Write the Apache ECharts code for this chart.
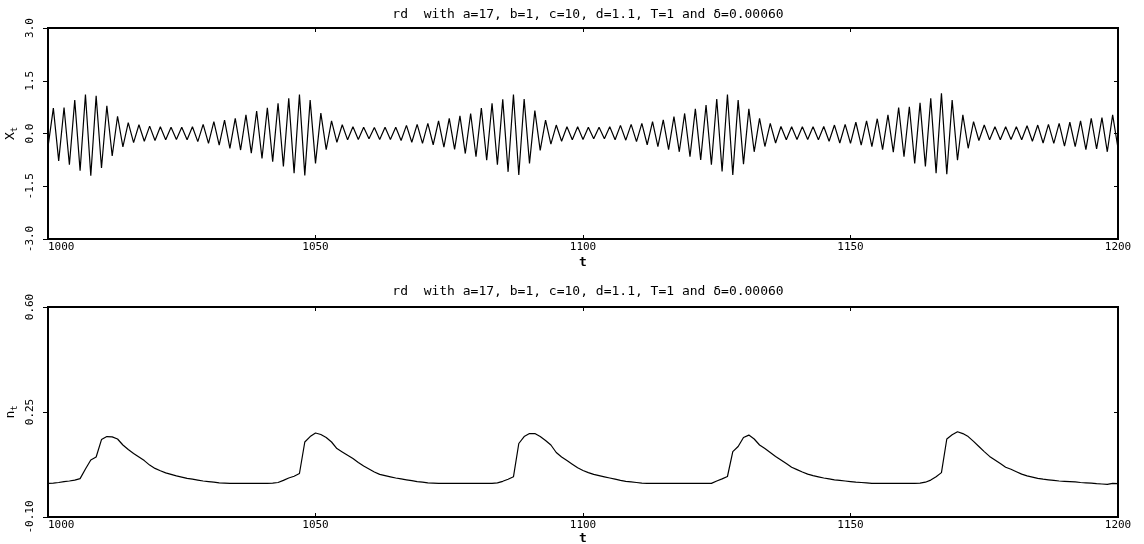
<!DOCTYPE html>
<html>
<head>
<meta charset="utf-8">
<title>rd</title>
<script src="https://cdn.jsdelivr.net/npm/echarts@6/dist/echarts.min.js"></script>
<style>
  html, body { margin: 0; padding: 0; background: #fff; }
  #main { width: 1144px; height: 544px; }
</style>
</head>
<body>
<div id="main"></div>
<script type="text/javascript">
	// time axis
	var tStart = 1000;
	var tEnd = 1200;
	var xTicks = [1000, 1050, 1100, 1150, 1200];

	// x_t, one value per t = 1000 ... 1200
	var xt = [
		-0.38, 0.72, -0.78, 0.74, -0.89, 0.95, -1.06, 1.11, -1.20, 1.07,
		-0.98, 0.79, -0.64, 0.49, -0.38, 0.31, -0.26, 0.25, -0.22, 0.21,
		-0.20, 0.19, -0.18, 0.18, -0.17, 0.18, -0.18, 0.19, -0.23, 0.26,
		-0.28, 0.34, -0.33, 0.38, -0.42, 0.43, -0.47, 0.53, -0.56, 0.64,
		-0.71, 0.73, -0.80, 0.86, -0.94, 1.00, -1.13, 1.11, -1.19, 0.95,
		-0.85, 0.58, -0.46, 0.36, -0.25, 0.25, -0.18, 0.19, -0.17, 0.18,
		-0.15, 0.17, -0.17, 0.18, -0.17, 0.18, -0.20, 0.23, -0.25, 0.26,
		-0.28, 0.29, -0.32, 0.36, -0.39, 0.43, -0.45, 0.50, -0.57, 0.57,
		-0.66, 0.72, -0.76, 0.86, -0.89, 0.97, -1.09, 1.11, -1.18, 0.98,
		-0.85, 0.65, -0.48, 0.38, -0.30, 0.24, -0.22, 0.19, -0.18, 0.19,
		-0.17, 0.18, -0.15, 0.18, -0.15, 0.19, -0.18, 0.23, -0.19, 0.26,
		-0.23, 0.29, -0.32, 0.34, -0.37, 0.39, -0.46, 0.48, -0.52, 0.57,
		-0.66, 0.70, -0.75, 0.81, -0.89, 0.98, -1.08, 1.11, -1.18, 0.95,
		-0.87, 0.70, -0.52, 0.43, -0.37, 0.29, -0.27, 0.20, -0.18, 0.19,
		-0.17, 0.19, -0.17, 0.19, -0.18, 0.20, -0.22, 0.24, -0.27, 0.26,
		-0.28, 0.32, -0.33, 0.36, -0.37, 0.42, -0.46, 0.53, -0.53, 0.74,
		-0.66, 0.76, -0.85, 0.87, -0.94, 1.00, -1.13, 1.14, -1.16, 0.95,
		-0.76, 0.53, -0.42, 0.34, -0.20, 0.24, -0.18, 0.19, -0.18, 0.19,
		-0.17, 0.19, -0.18, 0.22, -0.22, 0.24, -0.27, 0.26, -0.28, 0.29,
		-0.36, 0.32, -0.37, 0.36, -0.46, 0.43, -0.44, 0.45, -0.52, 0.53,
		-0.42
	];

	// n_t, one value per t = 1000 ... 1200
	var nt = [
		0.012, 0.013, 0.015, 0.018, 0.020, 0.023, 0.028, 0.060, 0.090, 0.100,
		0.158, 0.168, 0.167, 0.160, 0.140, 0.125, 0.112, 0.100, 0.088, 0.073,
		0.062, 0.054, 0.047, 0.042, 0.037, 0.033, 0.029, 0.026, 0.023, 0.020,
		0.018, 0.016, 0.014, 0.013, 0.012, 0.012, 0.012, 0.012, 0.012, 0.012,
		0.012, 0.012, 0.013, 0.015, 0.022, 0.030, 0.036, 0.045, 0.150, 0.168,
		0.180, 0.175, 0.165, 0.150, 0.128, 0.117, 0.106, 0.095, 0.082, 0.070,
		0.060, 0.050, 0.042, 0.038, 0.034, 0.030, 0.027, 0.024, 0.021, 0.018,
		0.016, 0.014, 0.013, 0.012, 0.012, 0.012, 0.012, 0.012, 0.012, 0.012,
		0.012, 0.012, 0.012, 0.012, 0.014, 0.019, 0.026, 0.034, 0.145, 0.168,
		0.178, 0.178, 0.168, 0.155, 0.140, 0.115, 0.100, 0.088, 0.076, 0.064,
		0.055, 0.048, 0.042, 0.038, 0.034, 0.030, 0.026, 0.022, 0.019, 0.017,
		0.015, 0.013, 0.012, 0.012, 0.012, 0.012, 0.012, 0.012, 0.012, 0.012,
		0.012, 0.012, 0.012, 0.012, 0.012, 0.020, 0.027, 0.035, 0.118, 0.135,
		0.165, 0.173, 0.160, 0.140, 0.128, 0.115, 0.102, 0.090, 0.078, 0.066,
		0.058, 0.050, 0.043, 0.038, 0.034, 0.030, 0.027, 0.024, 0.022, 0.020,
		0.018, 0.016, 0.015, 0.014, 0.012, 0.012, 0.012, 0.012, 0.012, 0.012,
		0.012, 0.012, 0.012, 0.013, 0.016, 0.023, 0.034, 0.048, 0.160, 0.174,
		0.184, 0.178, 0.168, 0.152, 0.135, 0.118, 0.102, 0.090, 0.078, 0.066,
		0.059, 0.051, 0.043, 0.037, 0.033, 0.029, 0.026, 0.024, 0.022, 0.020,
		0.019, 0.018, 0.017, 0.015, 0.014, 0.013, 0.011, 0.010, 0.009, 0.012,
		0.011
	];

	// y tick labels
	var xtTicks = [-3.0, -1.5, 0.0, 1.5, 3.0];
	var ntTicks = [-0.10, 0.25, 0.60];

	var titleText = 'rd  with a=17, b=1, c=10, d=1.1, T=1 and \u03b4=0.00060';
	var monoFont = 'DejaVu Sans Mono';

	function pairs(values) {
		var out = [];
		for (var i = 0; i < values.length; i++) {
			out.push([tStart + i, values[i]]);
		}
		return out;
	}

	function bottomAxis(gridIndex, gap) {
		return {
			type: 'value', gridIndex: gridIndex, position: 'bottom',
			min: tStart, max: tEnd, interval: xTicks[1] - xTicks[0],
			name: 't', nameLocation: 'middle', nameGap: gap,
			nameTextStyle: { fontFamily: monoFont, fontSize: 13, color: '#000', fontWeight: 'bold' },
			axisLine: { show: false, onZero: false },
			axisTick: { inside: true, length: 4, lineStyle: { color: '#000', width: 1 } },
			axisLabel: {
				fontFamily: monoFont, fontSize: 11, color: '#000', margin: 3, alignMinLabel: 'left',
				formatter: function (v) { return String(v); }
			},
			splitLine: { show: false }
		};
	}
	function topAxis(gridIndex) {
		return {
			type: 'value', gridIndex: gridIndex, position: 'top',
			min: tStart, max: tEnd, interval: xTicks[1] - xTicks[0],
			axisLine: { show: false, onZero: false },
			axisTick: { inside: true, length: 4, lineStyle: { color: '#000', width: 1 } },
			axisLabel: { show: false },
			splitLine: { show: false }
		};
	}
	function leftAxis(gridIndex, ticks, digits, name) {
		return {
			type: 'value', gridIndex: gridIndex, position: 'left',
			min: ticks[0], max: ticks[ticks.length - 1], interval: ticks[1] - ticks[0],
			name: name, nameLocation: 'middle', nameGap: 29, nameRotate: 90,
			nameMoveOverlap: false,
			nameTextStyle: {
				fontFamily: monoFont, fontSize: 13, color: '#000',
				rich: {
					v: { fontFamily: monoFont, fontSize: 13, color: '#000' },
					s: { fontFamily: monoFont, fontSize: 9, color: '#000', padding: [8, 0, 0, 0] }
				}
			},
			axisLine: { show: false, onZero: false },
			axisTick: { inside: false, length: 5, lineStyle: { color: '#000', width: 1 } },
			axisLabel: {
				rotate: 90, margin: 12, fontFamily: monoFont, fontSize: 11, color: '#000',
				formatter: function (v) { return v.toFixed(digits); }
			},
			splitLine: { show: false }
		};
	}
	function rightAxis(gridIndex, ticks) {
		return {
			type: 'value', gridIndex: gridIndex, position: 'right',
			min: ticks[0], max: ticks[ticks.length - 1], interval: ticks[1] - ticks[0],
			axisLine: { show: false, onZero: false },
			axisTick: { inside: true, length: 4, lineStyle: { color: '#000', width: 1 } },
			axisLabel: { show: false },
			splitLine: { show: false }
		};
	}

	var chart = echarts.init(document.getElementById('main'), null, { renderer: 'canvas' });

	var gridBase = {
		left: 48, right: 26, show: true, borderColor: '#000', borderWidth: 2,
		backgroundColor: 'transparent', containLabel: false, outerBoundsMode: 'none'
	};

	var option = {
		backgroundColor: '#fff',
		animation: false,
		title: [
			{ text: titleText, left: 583, top: 3, textAlign: 'center',
			  textStyle: { fontFamily: monoFont, fontSize: 13, fontWeight: 'normal', color: '#000' } },
			{ text: titleText, left: 583, top: 280, textAlign: 'center',
			  textStyle: { fontFamily: monoFont, fontSize: 13, fontWeight: 'normal', color: '#000' } }
		],
		grid: [
			Object.assign({ top: 28, height: 211 }, gridBase),
			Object.assign({ top: 307, height: 210 }, gridBase)
		],
		xAxis: [
			bottomAxis(0, 17), topAxis(0),
			bottomAxis(1, 15), topAxis(1)
		],
		yAxis: [
			leftAxis(0, xtTicks, 1, '{v|X}{s|t}'), rightAxis(0, xtTicks),
			leftAxis(1, ntTicks, 2, '{v|n}{s|t}'), rightAxis(1, ntTicks)
		],
		series: [
			{
				name: 'X_t', type: 'line', xAxisIndex: 0, yAxisIndex: 0,
				data: pairs(xt), showSymbol: false, smooth: false,
				lineStyle: { color: '#000', width: 1.2 }
			},
			{
				name: 'n_t', type: 'line', xAxisIndex: 2, yAxisIndex: 2,
				data: pairs(nt), showSymbol: false, smooth: false,
				lineStyle: { color: '#000', width: 1.2 }
			}
		]
	};

	chart.setOption(option);
</script>
</body>
</html>
